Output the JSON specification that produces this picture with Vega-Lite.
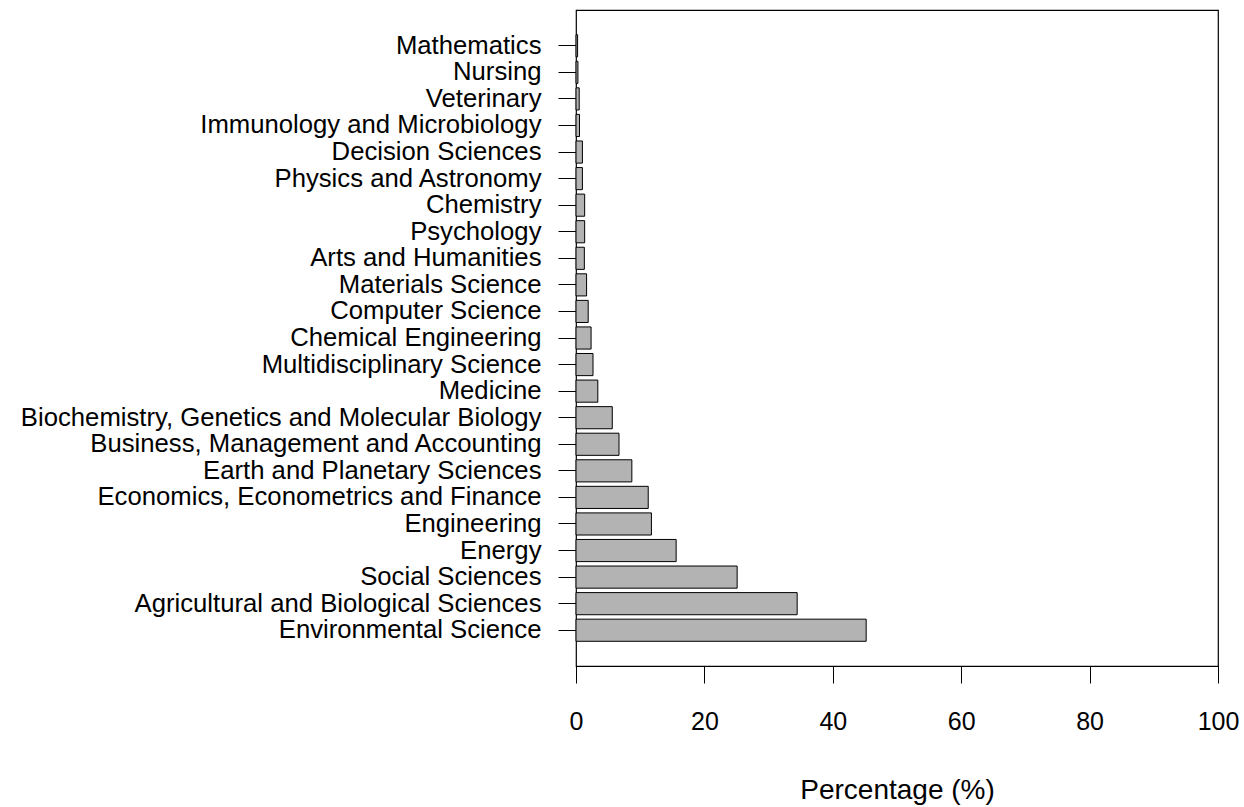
{
  "$schema": "https://vega.github.io/schema/vega-lite/v6.json",
  "width": 642,
  "height": 656,
  "autosize": {"type": "none"},
  "padding": {"left": 576, "top": 10, "right": 26, "bottom": 141},
  "background": "white",
  "config": {
    "view": {"stroke": "black", "strokeWidth": 1.2},
    "font": "Liberation Sans",
    "axis": {"grid": false, "labelFont": "Liberation Sans", "titleFont": "Liberation Sans", "labelColor": "black", "titleColor": "black", "tickColor": "black", "domainColor": "black", "labelFontSize": 25, "titleFontSize": 28, "titleFontWeight": "normal", "tickWidth": 1, "domainWidth": 1.2}
  },
  "data": {
    "values": [
      {"subject": "Mathematics", "pct": 0.25},
      {"subject": "Nursing", "pct": 0.3},
      {"subject": "Veterinary", "pct": 0.5},
      {"subject": "Immunology and Microbiology", "pct": 0.55},
      {"subject": "Decision Sciences", "pct": 1.0},
      {"subject": "Physics and Astronomy", "pct": 1.0},
      {"subject": "Chemistry", "pct": 1.35},
      {"subject": "Psychology", "pct": 1.35},
      {"subject": "Arts and Humanities", "pct": 1.3},
      {"subject": "Materials Science", "pct": 1.65},
      {"subject": "Computer Science", "pct": 1.9},
      {"subject": "Chemical Engineering", "pct": 2.35},
      {"subject": "Multidisciplinary Science", "pct": 2.65},
      {"subject": "Medicine", "pct": 3.4},
      {"subject": "Biochemistry, Genetics and Molecular Biology", "pct": 5.65},
      {"subject": "Business, Management and Accounting", "pct": 6.7},
      {"subject": "Earth and Planetary Sciences", "pct": 8.7},
      {"subject": "Economics, Econometrics and Finance", "pct": 11.25},
      {"subject": "Engineering", "pct": 11.75},
      {"subject": "Energy", "pct": 15.6},
      {"subject": "Social Sciences", "pct": 25.1},
      {"subject": "Agricultural and Biological Sciences", "pct": 34.45},
      {"subject": "Environmental Science", "pct": 45.2}
    ]
  },
  "mark": {"type": "bar", "fill": "#b3b3b3", "stroke": "black", "strokeWidth": 1},
  "encoding": {
    "y": {
      "field": "subject",
      "type": "nominal",
      "sort": null,
      "scale": {"paddingInner": 0.167, "paddingOuter": 0.93},
      "axis": {"title": null, "domain": false, "tickSize": 18, "labelPadding": 17, "labelLimit": 0, "labelBaseline": "middle", "labelFontSize": 25.7}
    },
    "x": {
      "field": "pct",
      "type": "quantitative",
      "scale": {"domain": [0, 100], "nice": false, "zero": true},
      "axis": {"title": "Percentage (%)", "values": [0, 20, 40, 60, 80, 100], "tickSize": 17, "labelPadding": 26, "titleBaseline": "alphabetic", "titleY": 132, "labelFlush": false, "labelOverlap": false}
    }
  }
}
